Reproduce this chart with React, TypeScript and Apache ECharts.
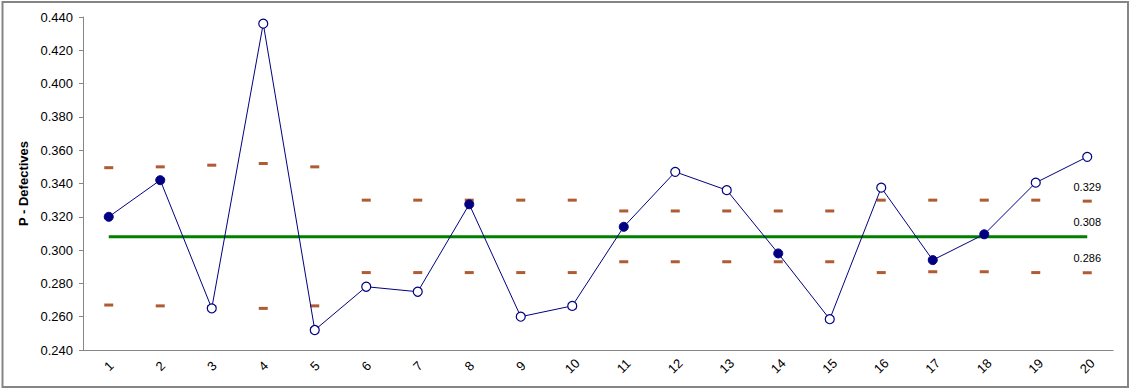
import React, { useEffect, useRef } from "react";
import * as echarts from "echarts";

const categories = ["1","2","3","4","5","6","7","8","9","10","11","12","13","14","15","16","17","18","19","20"];
const pValues = [0.320,0.342,0.265,0.436,0.252,0.278,0.275,0.3275,0.260,0.2665,0.314,0.347,0.336,0.298,0.2585,0.3375,0.294,0.3095,0.3405,0.356];
const ucl = [0.3495,0.350,0.351,0.352,0.350,0.330,0.330,0.330,0.330,0.330,0.3235,0.3235,0.3235,0.3235,0.3235,0.330,0.330,0.330,0.330,0.3294];
const lcl = [0.267,0.2665,0.266,0.265,0.2665,0.2865,0.2865,0.2865,0.2865,0.2865,0.293,0.293,0.293,0.293,0.293,0.2865,0.287,0.287,0.2865,0.2864];
const centerLine = [0.308,0.308,0.308,0.308,0.308,0.308,0.308,0.308,0.308,0.308,0.308,0.308,0.308,0.308,0.308,0.308,0.308,0.308,0.308,0.308];
const yTicks = { min: 0.24, max: 0.44, interval: 0.02 };

const FONT = "'Liberation Sans', Arial, sans-serif";
const NAVY = "#000080";
const LIMIT = "#993300";

export default function App() {
  const ref = useRef<HTMLDivElement>(null);
  useEffect(() => {
    if (!ref.current) return;
    const chart = echarts.init(ref.current, undefined, { renderer: "svg" });
    const last = categories.length - 1;
    const pointData = pValues.map((v, i) => {
      const inside = v <= ucl[i] && v >= lcl[i];
      return {
        value: v,
        itemStyle: inside
          ? { color: NAVY, borderColor: NAVY, borderWidth: 1 }
          : { color: "#ffffff", borderColor: NAVY, borderWidth: 1.2 },
      };
    });
    chart.setOption({
      animation: false,
      backgroundColor: "#ffffff",
      textStyle: { fontFamily: FONT },
      grid: { left: 83, right: 18, top: 17, bottom: 40, containLabel: false },
      graphic: [
        {
          type: "rect",
          shape: { x: 2.5, y: 2, width: 1125.5, height: 385 },
          style: { fill: "none", stroke: "#858585", lineWidth: 2 },
          silent: true,
        },
      ],
      xAxis: {
        type: "category",
        data: categories,
        boundaryGap: true,
        axisLine: { show: true, lineStyle: { color: "#868686", width: 1 } },
        axisTick: { show: false },
        axisLabel: {
          rotate: 45,
          align: "center",
          verticalAlign: "middle",
          margin: 16,
          fontSize: 13,
          color: "#000000",
          fontFamily: FONT,
          interval: 0,
        },
        splitLine: { show: false },
      },
      yAxis: {
        type: "value",
        min: yTicks.min,
        max: yTicks.max,
        interval: yTicks.interval,
        name: "P - Defectives",
        nameLocation: "middle",
        nameGap: 46,
        nameTextStyle: { fontSize: 13, fontWeight: "bold", color: "#000000", fontFamily: FONT },
        axisLine: { show: true, lineStyle: { color: "#868686", width: 1 } },
        axisTick: { show: true, inside: false, length: 4, lineStyle: { color: "#868686" } },
        axisLabel: {
          formatter: (v: number) => v.toFixed(3),
          fontSize: 13,
          color: "#000000",
          margin: 10,
          fontFamily: FONT,
        },
        splitLine: { show: false },
      },
      series: [
        {
          name: "CL",
          type: "line",
          data: centerLine,
          symbol: "none",
          lineStyle: { color: "#008000", width: 3 },
          z: 2,
        },
        {
          name: "UCL",
          type: "scatter",
          data: ucl,
          symbol: "rect",
          symbolSize: [9, 3],
          itemStyle: { color: LIMIT },
          z: 3,
        },
        {
          name: "LCL",
          type: "scatter",
          data: lcl,
          symbol: "rect",
          symbolSize: [9, 3],
          itemStyle: { color: LIMIT },
          z: 3,
        },
        {
          name: "P",
          type: "line",
          data: pointData,
          symbol: "circle",
          symbolSize: 9,
          lineStyle: { color: NAVY, width: 1 },
          z: 5,
        },
        {
          name: "labels",
          type: "scatter",
          data: [
            [last, ucl[last]],
            [last, centerLine[last]],
            [last, lcl[last]],
          ],
          symbolSize: 0,
          itemStyle: { color: "#ffffff", opacity: 0 },
          label: {
            show: true,
            position: "top",
            distance: 9,
            formatter: (p: any) => Number(p.value[1]).toFixed(3),
            fontSize: 11,
            color: "#000000",
            opacity: 1,
            fontFamily: FONT,
          },
          z: 6,
        },
      ],
    });
    return () => chart.dispose();
  }, []);
  return (
    <div
      ref={ref}
      style={{ position: "absolute", left: 0, top: 0, width: 1131, height: 390, background: "#ffffff" }}
    />
  );
}
